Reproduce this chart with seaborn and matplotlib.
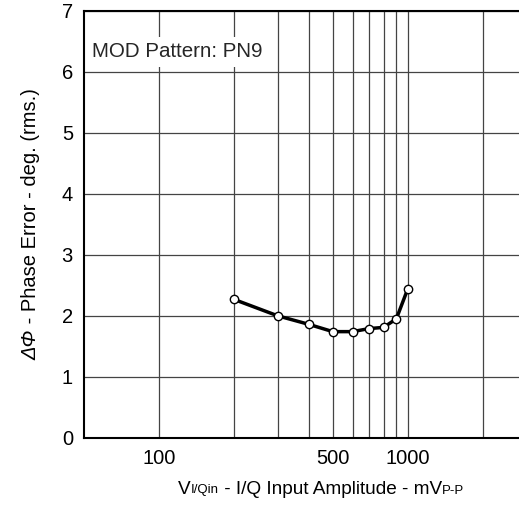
import matplotlib
matplotlib.use("Agg")
import matplotlib.pyplot as plt
from matplotlib.offsetbox import TextArea, HPacker, AnchoredOffsetbox
import seaborn as sns

# values
amp_mv = [200, 300, 400, 500, 600, 700, 800, 900, 1000]
phase_err = [2.27, 2.00, 1.86, 1.74, 1.74, 1.79, 1.81, 1.95, 2.44]
major_ticks = [100, 500, 1000]
minor_ticks = [200, 300, 400, 600, 700, 800, 900, 2000]
y_ticks = [0, 1, 2, 3, 4, 5, 6, 7]

sns.set_theme(style="white")
plt.rcParams["font.family"] = ["Liberation Sans", "DejaVu Sans"]

W, H = 519, 505
fig = plt.figure(figsize=(W / 100, H / 100), dpi=100)
ax = fig.add_axes([84 / W, 1 - 437.7 / H, (W - 84) / W, (437.7 - 11) / H])

sns.lineplot(x=amp_mv, y=phase_err, ax=ax, color="black", lw=2.5,
             marker="o", markersize=6, markerfacecolor="white",
             markeredgecolor="black", markeredgewidth=1, zorder=5)

ax.set_xscale("log")
ax.set_xlim(50, 2800)
ax.set_ylim(0, 7)
ax.set_xticks(major_ticks)
ax.set_xticklabels([str(t) for t in major_ticks])
ax.set_xticks(minor_ticks, minor=True)
ax.set_xticklabels([], minor=True)
ax.set_yticks(y_ticks)
ax.tick_params(axis="both", which="both", length=0, labelsize=14.5, colors="black")
ax.tick_params(axis="x", pad=8)
ax.tick_params(axis="y", pad=8)

ax.grid(True, which="both", axis="x", color="#444444", lw=0.9)
ax.grid(True, which="major", axis="y", color="#444444", lw=0.9)

for side in ["top", "left", "bottom"]:
    ax.spines[side].set_color("black")
    ax.spines[side].set_linewidth(1.5)
ax.spines["right"].set_visible(False)

ax.text(0.018, 0.904, "MOD Pattern: PN9", transform=ax.transAxes,
        fontsize=14.8, va="center", ha="left", zorder=4,
        bbox=dict(facecolor="white", edgecolor="none", pad=4))

# y label: italic delta-phi + plain rest, stacked bottom to top
ylab_x = 31 / W
ylab_mid = 1 - 224 / H
sym = fig.text(ylab_x, 0, "ΔΦ", style="italic", rotation=90, fontsize=14.5,
               ha="center", va="bottom", color="black")
rest = fig.text(ylab_x, 0, " - Phase Error - deg. (rms.)", rotation=90, fontsize=14.5,
                ha="center", va="bottom", color="black")
fig.canvas.draw()
renderer = fig.canvas.get_renderer()
h_sym = sym.get_window_extent(renderer).height / fig.bbox.height
h_rest = rest.get_window_extent(renderer).height / fig.bbox.height
y0 = ylab_mid - (h_sym + h_rest) / 2
sym.set_y(y0)
rest.set_y(y0 + h_sym)

# x label with small baseline subscripts
parts = [("V", 13.7), ("I/Qin", 9.5), (" - I/Q Input Amplitude - mV", 13.7), ("P-P", 9.5)]
boxes = [TextArea(s, textprops=dict(fontsize=fs, color="black")) for s, fs in parts]
pack = HPacker(children=boxes, align="baseline", pad=0, sep=0)
anchored = AnchoredOffsetbox(loc="center", child=pack, frameon=False, pad=0,
                             bbox_to_anchor=(321 / W, 1 - 489 / H),
                             bbox_transform=fig.transFigure, borderpad=0)
fig.add_artist(anchored)

fig.savefig("out.png", dpi=100)
